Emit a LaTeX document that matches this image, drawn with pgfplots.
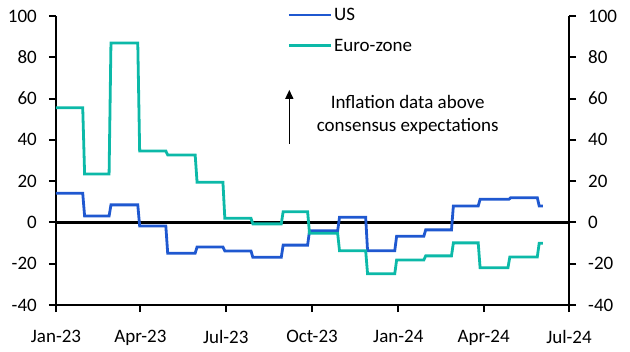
\documentclass[border=0pt]{standalone}
\usepackage{fontspec}
\setmainfont{Carlito}
\usepackage{pgfplots}
\pgfplotsset{compat=1.18}
\usetikzlibrary{arrows.meta}
\definecolor{usblue}{RGB}{31,88,208}
\definecolor{euteal}{RGB}{12,185,168}
\newcommand\cf{\fontsize{19bp}{23bp}\selectfont}
\begin{document}
\begin{tikzpicture}
\useasboundingbox (-56bp,-47bp) rectangle (574bp,305bp);
\pgfplotsset{
  common/.style={
    scale only axis, width=513bp, height=289bp,
    at={(0,0)}, anchor=south west,
    xmin=0, xmax=547, ymin=-40, ymax=100,
    ytick={-40,-20,0,20,40,60,80,100},
    tick align=outside, major tick length=7bp,
    tick style={black, line width=2bp},
    axis line style={black, line width=2.2bp},
    tick label style={font=\cf},
    /pgf/number format/assume math mode=true,
  }
}
\begin{axis}[common,
  axis x line*=bottom, axis y line*=left,
  xtick={0,90,181,273,365,456,547},
  xticklabels={Jan-23,Apr-23,Jul-23,Oct-23,Jan-24,Apr-24,Jul-24},
  xticklabel shift=14.5bp,
  yticklabel style={anchor=east, xshift=-12bp, inner sep=0pt},
  legend style={draw=none, fill=none, at={(0.4506,1.035)}, anchor=north west,
    font=\cf, inner sep=0pt, row sep=13bp, legend cell align=left,
    /tikz/every odd column/.style={column sep=0bp}},
  legend image code/.code={\draw[#1] (0bp,0bp) -- (42bp,0bp);},
]
\draw[black, line width=2.2bp] (axis cs:0,0) -- (axis cs:547,0);
\addplot[usblue, line width=2.8bp] coordinates {
(0,14.1) (28.5,14.1) (30.5,3.1) (56.6,3.1) (58.6,8.5) (87.2,8.5) (89.2,-1.7) (117.1,-1.7) (119.1,-14.9) (148.4,-14.9) (150.4,-11.9) (178,-11.9) (180,-13.8) (207.9,-13.8) (209.9,-16.9) (240.2,-16.9) (242.2,-11.0) (268.3,-11.0) (270.3,-4.1) (300.3,-4.1) (302.3,2.5) (330.2,2.5) (332.2,-13.7) (361.2,-13.7) (363.2,-6.7) (392.2,-6.7) (394.2,-3.6) (421.7,-3.6) (423.7,8.0) (450.2,8.0) (452.2,11.2) (482.9,11.2) (484.9,12.0) (513.2,12.0) (515.2,8.0) (519.2,8.0)
};
\addlegendentry{US}
\addplot[euteal, line width=2.8bp] coordinates {
(0,55.6) (28.5,55.6) (30.5,23.5) (56.6,23.5) (58.6,86.9) (87.2,86.9) (89.2,34.6) (117.1,34.6) (119.1,32.7) (148.4,32.7) (150.4,19.5) (178,19.5) (180,2.0) (207.9,2.0) (209.9,-0.7) (240.2,-0.7) (242.2,5.2) (268.3,5.2) (270.3,-5.2) (300.3,-5.2) (302.3,-13.7) (330.2,-13.7) (332.2,-24.9) (361.2,-24.9) (363.2,-18.2) (392.2,-18.2) (394.2,-16.2) (421.7,-16.2) (423.7,-9.9) (450.2,-9.9) (452.2,-22.0) (481.9,-22.0) (483.9,-16.7) (513.2,-16.7) (515.2,-10.1) (519.2,-10.1)
};
\addlegendentry{Euro-zone}
\draw[-{Triangle[length=9bp,width=8bp]}, line width=1.5bp] (axis cs:248.8,38) -- (axis cs:248.8,64.2);
\node[align=center, font=\cf] at (axis cs:375,52) {Inflation data above\\consensus expectations};
\end{axis}
\begin{axis}[common,
  axis x line=none, axis y line*=right,
  xtick=\empty,
  yticklabel style={anchor=west, xshift=12bp, inner sep=0pt},
]
\end{axis}
\end{tikzpicture}
\end{document}
